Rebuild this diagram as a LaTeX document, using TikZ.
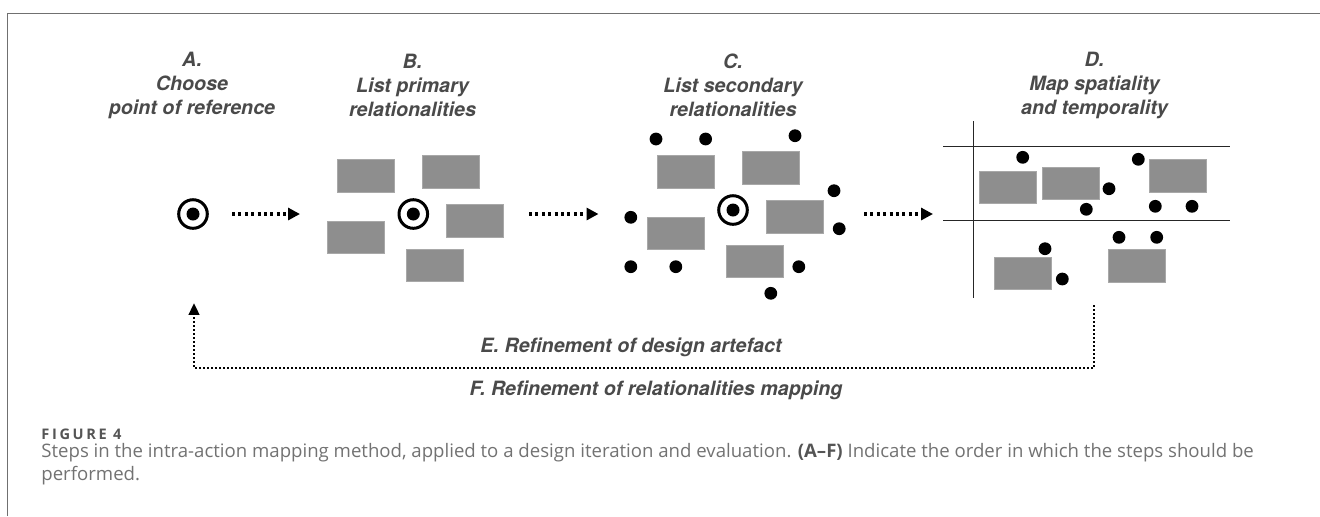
\documentclass[tikz,border=0pt]{standalone}
\usepackage{fontspec}
\setmainfont{TeX Gyre Heros}
\newfontfamily\capfont{Open Sans}
\newfontfamily\figfont{Open Sans}[LetterSpace=18]
\usetikzlibrary{arrows.meta}

\definecolor{labgray}{HTML}{4A4A4A}
\definecolor{cardgray}{HTML}{8E8E8E}
\definecolor{cardedge}{HTML}{A8A8A8}
\definecolor{framegray}{HTML}{707070}
\definecolor{capgray}{HTML}{727272}
\definecolor{figgray}{HTML}{555555}

\tikzset{
  lab/.style={font=\fontsize{9.85}{12}\selectfont\bfseries\itshape, text=labgray, align=center, inner sep=0pt},
  card/.style={rectangle, fill=cardgray, draw=cardedge, line width=0.4pt, minimum width=28.5pt, minimum height=16.2pt, inner sep=0pt},
  blob/.style={circle, fill=black, minimum size=6.4pt, inner sep=0pt},
  refpt/.style={circle, draw=black, line width=1.5pt, minimum size=14.3pt, inner sep=0pt,
    path picture={\fill[black] (path picture bounding box.center) circle (3.25pt);}},
  flow/.style={line width=1.9pt, dash pattern=on 1.5pt off 1.7pt, -{Triangle[length=6pt,width=6pt]}},
  loop/.style={line width=1pt, dash pattern=on 1pt off 1pt, -{Triangle[length=5.8pt,width=5.4pt]}},
  axis/.style={line width=0.75pt, draw=black!85},
  captext/.style={anchor=base west, inner sep=0pt, text=capgray, font=\capfont\fontsize{9.3}{11.5}\selectfont},
}

\begin{document}
\begin{tikzpicture}[x=0.5pt,y=-0.5pt]
\useasboundingbox (0,0) rectangle (1320,516);

% frame edges
\draw[framegray, line width=0.75pt] (7.3,516) -- (7.3,13.3) -- (1320,13.3);

% step headings
\node[lab] (labA) at (192,85.5)  {A.\\Choose\\point of reference};
\node[lab] (labB) at (412.5,85.5) {B.\\List primary\\relationalities};
\node[lab] (labC) at (733,85.5)  {C.\\List secondary\\relationalities};
\node[lab] (labD) at (1094.5,85.5) {D.\\Map spatiality\\and temporality};

% A: point of reference
\node[refpt] (refA) at (193,214) {};

% B: primary relationalities
\node[refpt] (refB) at (413.3,214) {};
\node[card] (b1) at (366,176) {};
\node[card] (b2) at (451,172) {};
\node[card] (b3) at (475,221) {};
\node[card] (b4) at (355.5,237.5) {};
\node[card] (b5) at (435,265.5) {};

% C: secondary relationalities
\node[refpt] (refC) at (733,210) {};
\node[card] (c1) at (686,172) {};
\node[card] (c2) at (771,168) {};
\node[card] (c3) at (795.3,217) {};
\node[card] (c4) at (675.5,233.3) {};
\node[card] (c5) at (755.3,261.5) {};
\node[blob] (cd1) at (656,139) {};
\node[blob] (cd2) at (705.6,139) {};
\node[blob] (cd3) at (795,135.7) {};
\node[blob] (cd4) at (834,190.7) {};
\node[blob] (cd5) at (630.8,217.3) {};
\node[blob] (cd6) at (839.2,228.7) {};
\node[blob] (cd7) at (630.8,266.7) {};
\node[blob] (cd8) at (675.8,266.7) {};
\node[blob] (cd9) at (798.8,266.7) {};
\node[blob] (cd10) at (770.8,293.3) {};

% D: spatiality and temporality
\coordinate (vtop) at (973.5,121);
\coordinate (vbot) at (973.5,298.3);
\coordinate (h1l) at (943.3,146.7);
\coordinate (h1r) at (1230,146.7);
\coordinate (h2l) at (943.3,220.7);
\coordinate (h2r) at (1230,220.7);
\draw[axis] (vtop) -- (vbot);
\draw[axis] (h1l) -- (h1r);
\draw[axis] (h2l) -- (h2r);
\node[card] (d1) at (1007.4,187.5) {};
\node[card] (d2) at (1070.5,183.5) {};
\node[card] (d3) at (1177.7,175.7) {};
\node[card] (d4) at (1022.8,273.5) {};
\node[card] (d5) at (1136.4,266) {};
\node[blob] (dd1) at (1022.7,157.3) {};
\node[blob] (dd2) at (1138.3,159.3) {};
\node[blob] (dd3) at (1109,188.7) {};
\node[blob] (dd4) at (1086.3,209.3) {};
\node[blob] (dd5) at (1155.3,206.3) {};
\node[blob] (dd6) at (1192,206.3) {};
\node[blob] (dd7) at (1119,237.3) {};
\node[blob] (dd8) at (1156.7,237.3) {};
\node[blob] (dd9) at (1045,248.7) {};
\node[blob] (dd10) at (1062.3,279) {};

% forward steps
\coordinate (abS) at (232,214);  \coordinate (abE) at (300,214);
\coordinate (bcS) at (529,214);  \coordinate (bcE) at (598.5,214);
\coordinate (cdS) at (864,214);  \coordinate (cdE) at (933,214);
\draw[flow] (abS) -- (abE);
\draw[flow] (bcS) -- (bcE);
\draw[flow] (cdS) -- (cdE);

% refinement loop back to A
\coordinate (loopS) at (1093.5,305);
\coordinate (loopE) at (194,303.3);
\draw[loop] (loopS) -- ++(0,63) -| (loopE);
\node[lab] (labE) at (631,347) {E. Refinement of design artefact};
\node[lab] (labF) at (656,390) {F. Refinement of relationalities mapping};

% caption
\node[anchor=base west, inner sep=0pt, text=figgray, font=\figfont\fontsize{7.3}{8}\selectfont\bfseries] (fig) at (41,439) {FIGURE 4};
\node[captext] (cap1) at (41,457)
  {Steps in the intra-action mapping method, applied to a design iteration and evaluation. {\bfseries\color{figgray}(A–F)} Indicate the order in which the steps should be};
\node[captext] (cap2) at (41,480) {performed.};
\end{tikzpicture}
\end{document}
